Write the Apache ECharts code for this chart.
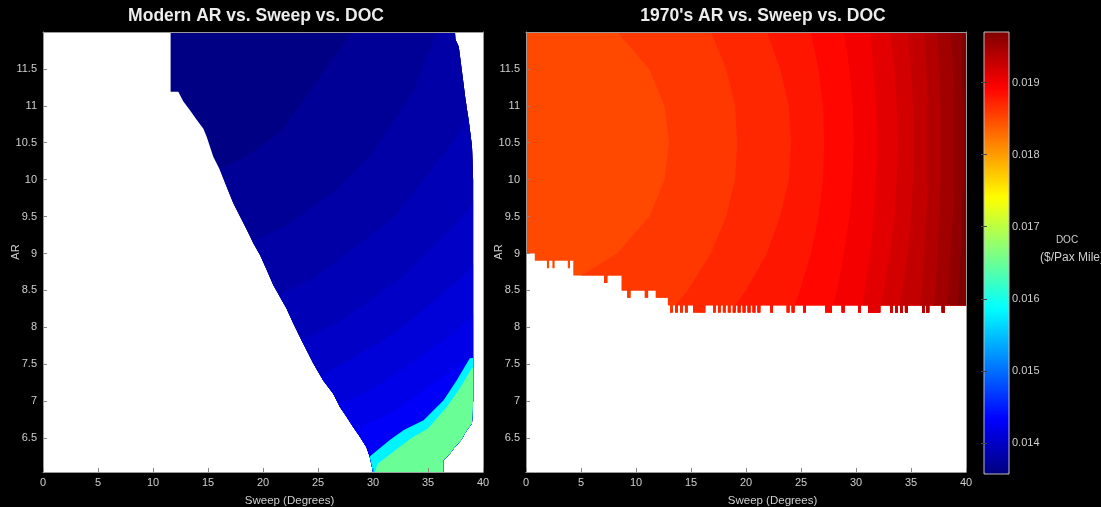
<!DOCTYPE html>
<html>
<head>
<meta charset="utf-8">
<script src="https://cdn.jsdelivr.net/npm/echarts@6/dist/echarts.min.js"></script>
<style>
    html, body { margin: 0; padding: 0; background: #000; }
    #main { width: 1101px; height: 507px; }
</style>
</head>
<body>
<div id="main"></div>
<script>
// axes
var sweepTicks = [0, 5, 10, 15, 20, 25, 30, 35, 40];
var arTicks = [6.5, 7, 7.5, 8, 8.5, 9, 9.5, 10, 10.5, 11, 11.5];
var docTicks = [0.014, 0.015, 0.016, 0.017, 0.018, 0.019];
var sweepRange = [0, 40];
var arRange = [6.04, 12];
var docRange = [0.01357, 0.0197];

// jet colormap
var jetColors = ['#000080', '#0000ff', '#0080ff', '#00ffff', '#80ff80', '#ffff00', '#ff8000', '#ff0000', '#800000'];

// ---------- Modern: feasible region (sweep, AR) ----------
var modernLeftEdge = [[11.6, 12], [11.6, 11.19], [12.3, 11.19], [12.76, 11.06], [13.36, 10.94], [13.97, 10.81],
    [14.58, 10.69], [14.88, 10.58], [15.48, 10.31], [16.09, 10.13], [16.7, 9.9], [17.3, 9.68], [17.91, 9.5],
    [18.52, 9.32], [19.12, 9.14], [19.73, 8.98], [20.33, 8.78], [20.94, 8.57], [21.55, 8.41], [22.15, 8.25],
    [22.76, 8.05], [23.36, 7.87], [23.97, 7.69], [24.58, 7.51], [25.48, 7.28], [26.39, 7.1], [27.0, 6.92],
    [27.6, 6.79], [28.2, 6.65], [28.8, 6.52], [29.4, 6.38], [29.7, 6.25], [30.0, 6.04]];
var modernRightEdge = [[37.45, 12], [37.5, 11.9], [37.8, 11.8], [38.1, 11.45], [38.4, 11.1], [38.7, 10.8],
    [39.0, 10.45], [39.1, 10.0], [39.1, 7.0], [39.0, 6.7], [38.5, 6.6], [38.0, 6.47], [37.45, 6.38],
    [37.0, 6.29], [36.4, 6.2], [36.4, 6.04]];

// Modern: DOC level of each band and the contour where it starts
var modernBase = 0.0136;
var modernLevels = [0.0137, 0.0138, 0.0139, 0.0140, 0.0141, 0.0142, 0.0143, 0.0158, 0.0165];
var modernContours = [
    [[28.1, 12], [21.6, 10.65], [18.4, 10.31], [14.8, 10.06], [7, 9.86], [0, 9.86], [0, 6.04]],
    [[35.8, 12], [33.5, 11.15], [30.0, 10.37], [26.3, 9.82], [22.0, 9.37], [17.3, 9.04], [7, 8.77], [0, 8.77], [0, 6.04]],
    [[40, 11.31], [37.7, 10.6], [32.1, 9.51], [24.7, 8.67], [19.1, 8.28], [7, 7.96], [0, 7.96], [0, 6.04]],
    [[40, 9.88], [37.6, 9.41], [32.7, 8.68], [27.0, 8.08], [20.7, 7.64], [7, 7.28], [0, 7.28], [0, 6.04]],
    [[40, 8.99], [37.9, 8.65], [32.0, 7.92], [25.4, 7.35], [18.3, 6.96], [7, 6.74], [0, 6.74], [0, 6.04]],
    [[40, 8.30], [37.1, 7.90], [30.4, 7.20], [23.0, 6.69], [15.1, 6.37], [7, 6.27], [0, 6.27], [0, 6.04]],
    [[40, 7.74], [38.8, 7.59], [31.8, 6.85], [23.9, 6.31], [17.7, 6.04]],
    [[40, 7.60], [38.8, 7.58], [37.6, 7.28], [36.4, 7.01], [34.6, 6.74], [32.8, 6.61], [31.5, 6.47], [29.7, 6.25], [29.0, 6.04]],
    [[40, 7.48], [39.0, 7.45], [37.8, 7.15], [36.6, 6.9], [35.0, 6.63], [33.5, 6.5], [32.0, 6.33], [30.4, 6.15], [30.2, 6.04]]
];

// ---------- 1970's: feasible region floor, steps of [sweep from, lowest AR] ----------
var seventiesFloor = [
    [0, 9.0], [0.8, 8.9], [1.9, 8.8], [2.1, 8.9], [2.4, 8.8], [2.6, 8.9], [3.8, 8.8], [4.0, 8.9],
    [4.3, 8.7], [7.1, 8.6], [7.4, 8.7],
    [8.7, 8.5], [9.2, 8.4], [9.5, 8.5], [10.8, 8.4], [11.1, 8.5], [11.8, 8.4],
    [12.9, 8.3], [13.1, 8.2], [13.35, 8.3], [13.55, 8.2], [13.8, 8.3], [14.0, 8.2], [14.25, 8.3],
    [14.45, 8.2], [14.7, 8.3], [15.2, 8.2], [16.3, 8.3],
    [17.0, 8.2], [17.25, 8.3], [17.45, 8.2], [17.7, 8.3], [17.9, 8.2], [18.15, 8.3], [18.35, 8.2],
    [18.6, 8.3], [18.8, 8.2], [19.05, 8.3], [19.25, 8.2], [19.5, 8.3], [19.7, 8.2], [19.95, 8.3],
    [20.15, 8.2], [20.4, 8.3], [20.6, 8.2], [20.85, 8.3], [21.05, 8.2], [21.3, 8.3],
    [22.2, 8.2], [22.45, 8.3], [23.7, 8.2], [23.95, 8.3], [24.15, 8.2], [24.4, 8.3], [25.2, 8.2], [25.45, 8.3],
    [27.2, 8.2], [27.8, 8.3], [28.7, 8.2], [28.95, 8.3], [30.2, 8.2], [30.45, 8.3], [31.1, 8.2], [32.2, 8.3],
    [33.1, 8.2], [33.35, 8.3], [33.55, 8.2], [33.8, 8.3], [34.0, 8.2], [34.25, 8.3], [34.45, 8.2], [34.7, 8.3],
    [36.0, 8.2], [36.25, 8.3], [36.4, 8.2], [36.65, 8.3], [37.8, 8.2], [38.05, 8.3]
];

// 1970's: DOC level of each band and the contour where it starts
var seventiesBase = 0.0185;
var seventiesLevels = [0.0186, 0.0187, 0.0188, 0.0189, 0.0190, 0.0191, 0.0192, 0.0193, 0.0194, 0.0195, 0.0196, 0.0197];
var seventiesContours = [
    [[8.3, 12], [11.2, 11.5], [12.6, 11], [13.0, 10.5], [12.6, 10], [11.2, 9.5], [8.3, 9.0], [5.0, 8.7], [3.1, 8.6], [0, 8.55], [0, 6.04]],
    [[16.8, 12], [18.2, 11.5], [19.0, 11], [19.2, 10.5], [19.0, 10], [18.2, 9.5], [16.8, 9], [14.7, 8.5], [13.0, 8.2], [13.0, 6.04]],
    [[21.9, 12], [23.1, 11.5], [23.9, 11], [24.1, 10.5], [23.9, 10], [23.1, 9.5], [21.9, 9], [20.0, 8.5], [18.5, 8.2], [18.5, 6.04]],
    [[25.9, 12], [26.6, 11.5], [27.0, 11], [27.1, 10.5], [27.0, 10], [26.6, 9.5], [25.9, 9], [24.9, 8.5], [24.2, 8.2], [24.2, 6.04]],
    [[28.9, 12], [29.4, 11.5], [29.7, 11], [29.8, 10.5], [29.7, 10], [29.4, 9.5], [28.9, 9], [28.3, 8.5], [27.7, 8.2], [27.7, 6.04]],
    [[31.3, 12], [31.6, 11.5], [31.85, 11], [31.9, 10.5], [31.85, 10], [31.6, 9.5], [31.3, 9], [30.8, 8.5], [30.5, 8.2], [30.5, 6.04]],
    [[33.1, 12], [33.5, 11.5], [33.7, 11], [33.8, 10.5], [33.7, 10], [33.5, 9.5], [33.1, 9], [32.55, 8.5], [32.15, 8.2], [32.15, 6.04]],
    [[34.7, 12], [35.0, 11.5], [35.2, 11], [35.3, 10.5], [35.2, 10], [35.0, 9.5], [34.7, 9], [34.2, 8.5], [33.9, 8.2], [33.9, 6.04]],
    [[36.2, 12], [36.4, 11.5], [36.5, 11], [36.5, 10.5], [36.5, 10], [36.4, 9.5], [36.2, 9], [36.0, 8.5], [35.8, 8.2], [35.8, 6.04]],
    [[37.4, 12], [37.6, 11.5], [37.7, 11], [37.7, 10.5], [37.7, 10], [37.6, 9.5], [37.4, 9], [37.2, 8.5], [37.0, 8.2], [37.0, 6.04]],
    [[38.6, 12], [38.8, 11.5], [38.9, 11], [38.9, 10.5], [38.9, 10], [38.8, 9.5], [38.6, 9], [38.4, 8.5], [38.2, 8.2], [38.2, 6.04]],
    [[39.5, 12], [39.6, 11.5], [39.7, 11], [39.7, 10.5], [39.7, 10], [39.6, 9.5], [39.5, 9], [39.35, 8.5], [39.25, 8.2], [39.25, 6.04]]
];

var myChart = echarts.init(document.getElementById('main'));

var plotCorners = [[sweepRange[0], arRange[1]], [sweepRange[1], arRange[1]], [sweepRange[1], arRange[0]], [sweepRange[0], arRange[0]]];

// feasible region outlines
var modernRegion = modernLeftEdge.concat(modernRightEdge.slice().reverse());

function floorRegion(steps) {
    var pts = [[sweepRange[0], arRange[1]], [sweepRange[1], arRange[1]]];
    for (var i = steps.length - 1; i >= 0; i--) {
        var end = (i === steps.length - 1) ? sweepRange[1] : steps[i + 1][0];
        pts.push([end, steps[i][1]]);
        pts.push([steps[i][0], steps[i][1]]);
    }
    return pts;
}
var seventiesRegion = floorRegion(seventiesFloor);

// one polygon per colour band, painted low to high, clipped to the feasible region
function bandSeries(idx, base, levels, contours, region) {
    var data = [[sweepRange[0], arRange[1], base]];
    for (var i = 0; i < levels.length; i++) {
        data.push([contours[i][0][0], contours[i][0][1], levels[i]]);
    }
    return {
        type: 'custom',
        xAxisIndex: idx,
        yAxisIndex: idx,
        clip: true,
        silent: true,
        animation: false,
        encode: { x: 0, y: 1 },
        data: data,
        renderItem: function (params, api) {
            var k = params.dataIndex;
            var shape = (k === 0) ? plotCorners :
                contours[k - 1].concat([[sweepRange[1], arRange[0]], [sweepRange[1], arRange[1]]]);
            return {
                type: 'polygon',
                shape: { points: shape.map(function (p) { return api.coord(p); }) },
                style: { fill: api.visual('color') },
                clipPath: {
                    type: 'polygon',
                    shape: { points: region.map(function (p) { return api.coord(p); }) }
                }
            };
        }
    };
}

var textColor = '#cfcfcf';
var fontFamily = '"Liberation Sans", Arial, sans-serif';

function sweepAxis(idx) {
    return {
        gridIndex: idx, type: 'value', position: 'bottom',
        min: sweepRange[0], max: sweepRange[1], interval: 5,
        name: 'Sweep (Degrees)', nameLocation: 'middle', nameGap: 23, nameMoveOverlap: false,
        nameTextStyle: { color: textColor, fontSize: 11.5, fontFamily: fontFamily, padding: [0, 0, 0, 53] },
        axisLine: { show: true, onZero: false, lineStyle: { color: '#9a9a9a', width: 1 } },
        axisTick: { show: true, inside: true, length: 4, lineStyle: { color: '#888' } },
        axisLabel: { color: textColor, fontSize: 11, fontFamily: fontFamily, margin: 5 },
        splitLine: { show: false },
        z: 10
    };
}
function topAxis(idx) {
    return {
        gridIndex: idx, type: 'value', position: 'top',
        min: sweepRange[0], max: sweepRange[1],
        axisLine: { show: true, onZero: false, lineStyle: { color: '#9a9a9a', width: 1 } },
        axisTick: { show: false }, axisLabel: { show: false }, splitLine: { show: false },
        z: 10
    };
}
function arAxis(idx) {
    return {
        gridIndex: idx, type: 'value', position: 'left',
        min: arRange[0], max: arRange[1],
        name: 'AR', nameLocation: 'middle', nameGap: 22, nameMoveOverlap: false,
        nameTextStyle: { color: textColor, fontSize: 11, fontFamily: fontFamily },
        axisLine: { show: true, onZero: false, lineStyle: { color: '#9a9a9a', width: 1 } },
        axisTick: { show: true, inside: true, length: 4, customValues: arTicks, lineStyle: { color: '#888' } },
        axisLabel: { color: textColor, fontSize: 11, fontFamily: fontFamily, margin: 6, customValues: arTicks },
        splitLine: { show: false },
        z: 10
    };
}
function rightAxis(idx) {
    return {
        gridIndex: idx, type: 'value', position: 'right',
        min: arRange[0], max: arRange[1],
        axisLine: { show: true, onZero: false, lineStyle: { color: '#9a9a9a', width: 1 } },
        axisTick: { show: false }, axisLabel: { show: false }, splitLine: { show: false },
        z: 10
    };
}

option = {
    backgroundColor: '#000',
    animation: false,
    grid: [
        { left: 43, top: 32, width: 440, height: 440, show: true, backgroundColor: '#fff', borderWidth: 0, outerBoundsMode: 'none' },
        { left: 526, top: 32, width: 440, height: 440, show: true, backgroundColor: '#fff', borderWidth: 0, outerBoundsMode: 'none' },
        { left: 984, top: 32, width: 25, height: 442, show: true, backgroundColor: 'transparent', borderColor: '#bbb', borderWidth: 1, z: 10, outerBoundsMode: 'none' }
    ],
    xAxis: [
        sweepAxis(0), sweepAxis(1), topAxis(0), topAxis(1),
        { gridIndex: 2, type: 'value', min: 0, max: 1, show: false }
    ],
    yAxis: [
        arAxis(0), arAxis(1), rightAxis(0), rightAxis(1),
        {
            gridIndex: 2, type: 'value', position: 'right',
            min: docRange[0], max: docRange[1],
            axisLine: { show: false },
            axisTick: { show: true, inside: true, length: 3, customValues: docTicks, lineStyle: { color: '#444' } },
            axisLabel: {
                color: textColor, fontSize: 11, fontFamily: fontFamily, margin: 3, customValues: docTicks,
                formatter: function (v) { return v.toFixed(3); }
            },
            splitLine: { show: false },
            z: 11
        },
        {
            gridIndex: 2, type: 'value', position: 'left',
            min: docRange[0], max: docRange[1],
            axisLine: { show: false },
            axisTick: { show: true, inside: true, length: 3, customValues: docTicks, lineStyle: { color: '#444' } },
            axisLabel: { show: false },
            splitLine: { show: false },
            z: 11
        }
    ],
    visualMap: {
        type: 'continuous',
        min: docRange[0], max: docRange[1],
        dimension: 2,
        seriesIndex: [0, 1],
        inRange: { color: jetColors },
        orient: 'vertical',
        left: 984, top: 32,
        itemWidth: 25, itemHeight: 442,
        padding: 0,
        calculable: false,
        hoverLink: false,
        text: null
    },
    graphic: [
        { type: 'text', x: 256, y: 16, style: { text: 'Modern AR vs. Sweep vs. DOC', fill: '#ececec', font: 'bold 17.5px ' + fontFamily, align: 'center', verticalAlign: 'middle' } },
        { type: 'text', x: 763, y: 16, style: { text: "1970's AR vs. Sweep vs. DOC", fill: '#ececec', font: 'bold 17.5px ' + fontFamily, align: 'center', verticalAlign: 'middle' } },
        { type: 'text', x: 1067, y: 240, style: { text: 'DOC', fill: textColor, font: '10px ' + fontFamily, align: 'center', verticalAlign: 'middle' } },
        { type: 'text', x: 1040, y: 258, style: { text: '($/Pax Mile)', fill: textColor, font: '12px ' + fontFamily, align: 'left', verticalAlign: 'middle' } }
    ],
    series: [
        bandSeries(0, modernBase, modernLevels, modernContours, modernRegion),
        bandSeries(1, seventiesBase, seventiesLevels, seventiesContours, seventiesRegion)
    ]
};

myChart.setOption(option);
</script>
</body>
</html>
